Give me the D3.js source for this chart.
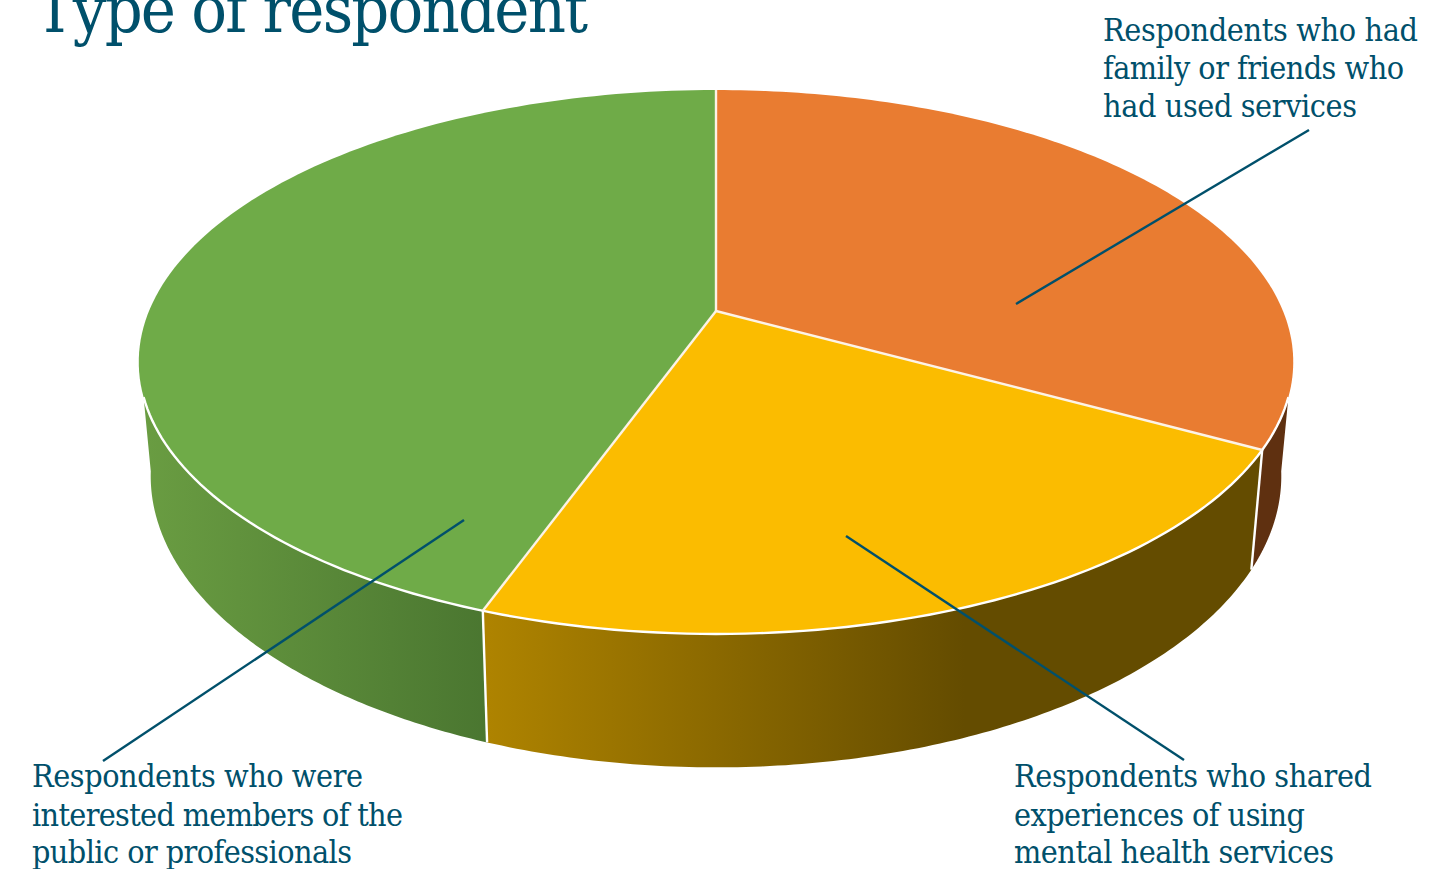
<!DOCTYPE html>
<html>
<head>
<meta charset="utf-8">
<script src="https://cdn.jsdelivr.net/npm/d3@7/dist/d3.min.js"></script>
<style>
  html, body { margin: 0; padding: 0; background: #fff; overflow: hidden; }
  svg { display: block; }
  text { font-family: "DejaVu Serif", "Liberation Serif", serif; font-stretch: condensed; fill: #00506b; }
</style>
</head>
<body>
<svg id="chart" width="1452" height="869"></svg>
<script>
// Share of responses by type of respondent, clockwise from twelve o'clock
const categories = ["Family or friends", "Shared experiences", "Interested public or professionals"];
const shares = [33, 22.5, 44.5];
const topColors = ["#e97c31", "#fbbc00", "#6fab48"];
const title = "Type of respondent";
const labelLines = [
  ["Respondents who had", "family or friends who", "had used services"],
  ["Respondents who shared", "experiences of using", "mental health services"],
  ["Respondents who were", "interested members of the", "public or professionals"]
];

const ink = "#00506b";

// The top face and the base are two circles, each seen through its own perspective
const topPlane = {
  tilt: 0.1875,
  x: d3.scaleLinear().domain([-1, 1]).range([149, 1283]),
  y: d3.scaleLinear().domain([-1, 1]).range([573.4, 48.6])
};
const basePlane = {
  tilt: 0.19,
  x: d3.scaleLinear().domain([-1, 1]).range([161, 1271]),
  y: d3.scaleLinear().domain([-1, 1]).range([701.5, 140])
};

function project(plane, theta, r = 1) {
  const u = r * Math.sin(theta), v = r * Math.cos(theta);
  const w = 1 + plane.tilt * v;
  return [plane.x(u / w), plane.y(v / w)];
}

function arcPoints(plane, a0, a1) {
  return d3.range(0, 121).map(i => project(plane, a0 + (a1 - a0) * i / 120));
}

const deg = d3.scaleLinear().domain([0, 180]).range([0, Math.PI]);
const line = d3.line();
const svg = d3.select("#chart");
const defs = svg.append("defs");
const arcs = d3.pie().sort(null).startAngle(0).endAngle(2 * Math.PI)(shares);

// Side wall shading runs left to right across the disc
const wallShades = [
  { x1: 0, x2: 1, stops: ["#5f3010", "#5f3010"] },
  { x1: 489, x2: 965, stops: ["#ae8300", "#644c00"] },
  { x1: 140, x2: 489, stops: ["#6a9d42", "#4a7630"] }
];
wallShades.forEach((s, i) => {
  const g = defs.append("linearGradient")
    .attr("id", "wall" + i)
    .attr("gradientUnits", "userSpaceOnUse")
    .attr("x1", s.x1).attr("x2", s.x2).attr("y1", 0).attr("y2", 0);
  g.append("stop").attr("offset", 0).attr("stop-color", s.stops[0]);
  g.append("stop").attr("offset", 1).attr("stop-color", s.stops[1]);
});

// The visible rim ends where its outline leaves the top circle and meets the base circle
const rimTop = [deg(108), deg(252)];
const rimBase = [deg(100), deg(260)];
const walls = svg.append("g");
arcs.forEach((d, i) => {
  const t0 = Math.max(d.startAngle, rimTop[0]), t1 = Math.min(d.endAngle, rimTop[1]);
  const b0 = Math.max(d.startAngle, rimBase[0]), b1 = Math.min(d.endAngle, rimBase[1]);
  const pts = arcPoints(topPlane, t0, t1).concat(arcPoints(basePlane, b0, b1).reverse());
  walls.append("path")
    .attr("d", line(pts) + "Z")
    .attr("fill", `url(#wall${i})`);
});

// Pale seams where the rim segments meet
arcs.slice(0, 2).forEach(d => {
  walls.append("path")
    .attr("d", line([project(topPlane, d.endAngle), project(basePlane, d.endAngle)]))
    .attr("stroke", "#fff").attr("stroke-width", 2.4).attr("fill", "none");
});

// Top face
const faces = svg.append("g");
arcs.forEach((d, i) => {
  const pts = [project(topPlane, 0, 0)].concat(arcPoints(topPlane, d.startAngle, d.endAngle));
  faces.append("path")
    .attr("d", line(pts) + "Z")
    .attr("fill", topColors[i]);
});
faces.append("path")
  .attr("d", line(arcPoints(topPlane, rimTop[0], rimTop[1])))
  .attr("fill", "none").attr("stroke", "#fff").attr("stroke-width", 2.4);
arcs.forEach(d => {
  faces.append("path")
    .attr("d", line([project(topPlane, 0, 0), project(topPlane, d.startAngle)]))
    .attr("stroke", "#fdf3e6").attr("stroke-width", 2.4).attr("fill", "none");
});

// Leader lines from each slice to its label
const leaders = [
  [[1016, 304], [1309, 130]],
  [[846, 536], [1184, 760]],
  [[464, 520], [103, 761]]
];
svg.append("g").selectAll("path").data(leaders).join("path")
  .attr("d", d => line(d))
  .attr("stroke", ink).attr("stroke-width", 2.4).attr("fill", "none");

// Title and callouts, each line fitted to its set width
svg.append("text")
  .attr("x", 35).attr("y", 32)
  .attr("font-size", 66)
  .attr("textLength", 553).attr("lengthAdjust", "spacing")
  .text(title);

const labelPlacement = [
  { x: 1103, y: [41, 79, 117], w: [315, 301, 254] },
  { x: 1014, y: [787, 826, 863], w: [358, 291, 320] },
  { x: 32, y: [787, 826, 863], w: [331, 371, 320] }
];
labelLines.forEach((lines, i) => {
  const p = labelPlacement[i];
  lines.forEach((t, j) => {
    svg.append("text")
      .attr("x", p.x).attr("y", p.y[j])
      .attr("font-size", 32)
      .attr("textLength", p.w[j]).attr("lengthAdjust", "spacing")
      .text(t);
  });
});
</script>
</body>
</html>
